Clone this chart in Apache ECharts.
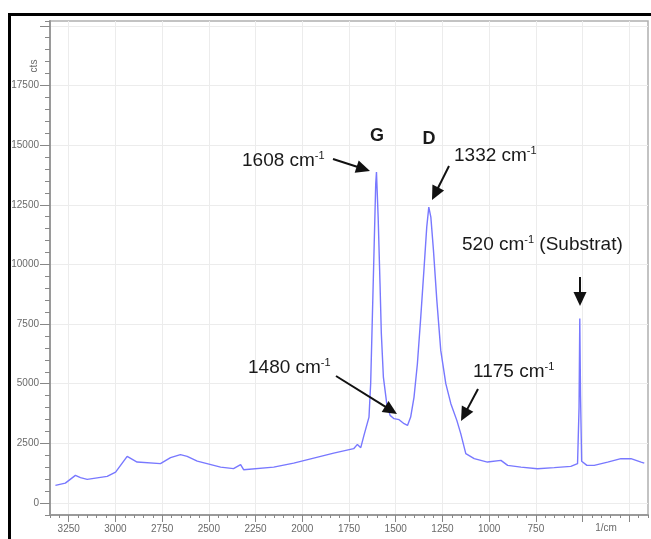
<!DOCTYPE html>
<html>
<head>
<meta charset="utf-8">
<script src="https://cdn.jsdelivr.net/npm/echarts@6/dist/echarts.min.js"></script>
<style>html,body{margin:0;padding:0;background:#fff}#c{width:651px;height:539px}</style>
</head>
<body>
<div id="c"></div>
<script>
// Raman spectrum (wavenumber in 1/cm, intensity in cts)
const wavenumbers = [3321, 3268, 3214, 3187, 3151, 3044, 2999, 2937, 2884, 2759, 2705, 2652, 2616, 2562, 2437, 2368, 2330, 2314, 2153, 2046, 1832, 1725, 1705, 1687, 1670, 1643, 1634, 1625, 1616, 1607, 1603, 1594, 1584, 1577, 1566, 1548, 1530, 1509, 1482, 1455, 1437, 1420, 1402, 1384, 1366, 1348, 1334, 1323, 1312, 1298, 1280, 1259, 1232, 1205, 1173, 1152, 1125, 1080, 1009, 937, 901, 830, 741, 652, 563, 527, 519, 515, 511, 505, 498, 477, 438, 366, 295, 241, 187, 170];
const counts = [742, 838, 1160, 1064, 993, 1119, 1299, 1957, 1718, 1651, 1902, 2028, 1957, 1760, 1508, 1441, 1609, 1399, 1508, 1676, 2095, 2279, 2459, 2321, 2836, 3603, 5015, 7792, 10587, 13381, 13867, 11982, 9192, 7110, 5279, 4164, 3674, 3536, 3494, 3326, 3255, 3603, 4441, 5840, 7792, 9887, 11563, 12401, 11982, 10587, 8492, 6397, 5002, 4164, 3465, 2908, 2070, 1860, 1718, 1789, 1580, 1508, 1441, 1483, 1538, 1651, 4000, 7738, 4500, 1750, 1705, 1580, 1580, 1718, 1860, 1860, 1718, 1676];

// axis ranges and tick labels
const xRange = [150, 3350];
const yRange = [-500, 20200];
const xTickLabels = [3250, 3000, 2750, 2500, 2250, 2000, 1750, 1500, 1250, 1000, 750];
const yTickLabels = [0, 2500, 5000, 7500, 10000, 12500, 15000, 17500];
const xUnit = '1/cm';
const yUnit = 'cts';

// annotations
const annotations = [
  { label: '1608', tail: [333, 159], tip: [370, 171], text: [242, 161] },
  { label: '1332', tail: [449, 166], tip: [432, 200], text: [454, 156] },
  { label: '1480', tail: [336, 376], tip: [397, 414], text: [248, 368] },
  { label: '1175', tail: [478, 389], tip: [461, 421], text: [473, 372] },
  { label: '520',  tail: [580, 277], tip: [580, 306], text: [462, 245], extra: ' (Substrat)' }
];
const bandLabels = [{ t: 'G', p: [377, 136] }, { t: 'D', p: [429, 139] }];

const xCats = [];
for (let v = xRange[0]; v <= xRange[1]; v += 50) xCats.push(String(v));
const yCats = [];
for (let v = yRange[0]; v <= yRange[1]; v += 100) yCats.push(String(v));

const chart = echarts.init(document.getElementById('c'), null, { renderer: 'canvas' });
const FONT = '"Liberation Sans", Arial, sans-serif';
const axisGrey = '#9a9a9a';
const labelGrey = '#6a6a6a';

function arrow(tail, tip) {
  const dx = tip[0] - tail[0], dy = tip[1] - tail[1];
  const L = Math.hypot(dx, dy), ux = dx / L, uy = dy / L;
  const hl = 14, hw = 6.5;
  const bx = tip[0] - ux * hl, by = tip[1] - uy * hl;
  return [
    { type: 'line', shape: { x1: tail[0], y1: tail[1], x2: bx + ux * 2, y2: by + uy * 2 }, style: { stroke: '#111', lineWidth: 2 }, z: 100 },
    { type: 'polygon', shape: { points: [[tip[0], tip[1]], [bx - uy * hw, by + ux * hw], [bx + uy * hw, by - ux * hw]] }, style: { fill: '#111' }, z: 100 }
  ];
}

const graphics = [
  { type: 'rect', shape: { x: 8, y: 13, width: 643, height: 3 }, style: { fill: '#000' }, z: 100 },
  { type: 'rect', shape: { x: 8, y: 13, width: 3, height: 526 }, style: { fill: '#000' }, z: 100 },
  { type: 'text', x: 34, y: 66, rotation: Math.PI / 2, style: { text: yUnit, fill: labelGrey, font: '10px ' + FONT, align: 'center', verticalAlign: 'middle' }, z: 100 },
  { type: 'text', x: 606, y: 528, style: { text: xUnit, fill: labelGrey, font: '10px ' + FONT, align: 'center', verticalAlign: 'middle' }, z: 100 }
];
bandLabels.forEach(b => graphics.push({ type: 'text', x: b.p[0], y: b.p[1], style: { text: b.t, fill: '#1a1a1a', font: 'bold 18px ' + FONT, align: 'center', verticalAlign: 'middle' }, z: 100 }));
annotations.forEach(a => {
  graphics.push({
    type: 'text', x: a.text[0], y: a.text[1],
    style: {
      text: '{a|' + a.label + ' cm}{s|-1}' + (a.extra ? '{a|' + a.extra + '}' : ''),
      rich: { a: { fontSize: 19, fontFamily: FONT, fill: '#1a1a1a', lineHeight: 21 }, s: { fontSize: 11, fontFamily: FONT, fill: '#1a1a1a', verticalAlign: 'top', lineHeight: 21 } },
      verticalAlign: 'middle', align: 'left'
    }, z: 100
  });
  arrow(a.tail, a.tip).forEach(g => graphics.push(g));
});

const option = {
  animation: false,
  backgroundColor: '#fff',
  grid: { left: 50, right: 3, top: 21, bottom: 24, show: true, borderColor: '#b0b0b0', borderWidth: 1.5, containLabel: false },
  xAxis: [
    {
      type: 'value', min: xRange[0], max: xRange[1], interval: 50, inverse: true, position: 'bottom',
      axisLine: { show: true, onZero: false, lineStyle: { color: axisGrey, width: 2 } },
      axisTick: { show: true, length: 3, lineStyle: { color: '#888' } },
      axisLabel: { show: false }, splitLine: { show: false }
    },
    {
      type: 'category', data: xCats, boundaryGap: false, inverse: true, position: 'bottom',
      axisLine: { show: false, onZero: false },
      axisTick: { show: true, length: 7, interval: (i, v) => (+v) % 250 === 0, lineStyle: { color: '#888' } },
      axisLabel: { interval: (i, v) => xTickLabels.includes(+v), color: labelGrey, fontSize: 10, fontFamily: FONT, margin: 9 },
      splitLine: { show: true, interval: (i, v) => (+v) % 250 === 0, lineStyle: { color: '#ececec', width: 1 } }
    }
  ],
  yAxis: [
    {
      type: 'value', min: yRange[0], max: yRange[1], interval: 500, position: 'left',
      axisLine: { show: true, onZero: false, lineStyle: { color: axisGrey, width: 2 } },
      axisTick: { show: true, length: 5, lineStyle: { color: '#888' } },
      axisLabel: { show: false }, splitLine: { show: false }
    },
    {
      type: 'category', data: yCats, boundaryGap: false, position: 'left',
      axisLine: { show: false, onZero: false },
      axisTick: { show: true, length: 10, interval: (i, v) => (+v) % 2500 === 0 && +v >= 0, lineStyle: { color: '#888' } },
      axisLabel: { interval: (i, v) => yTickLabels.includes(+v), color: labelGrey, fontSize: 10, fontFamily: FONT, margin: 11 },
      splitLine: { show: true, interval: (i, v) => (+v) % 2500 === 0 && +v >= 0, lineStyle: { color: '#ececec', width: 1 } }
    }
  ],
  series: [{
    type: 'line', xAxisIndex: 0, yAxisIndex: 0, showSymbol: false, symbol: 'none',
    data: wavenumbers.map((w, i) => [w, counts[i]]),
    lineStyle: { color: '#7878ff', width: 1.4 }, z: 5
  }],
  graphic: graphics
};
chart.setOption(option);
</script>
</body>
</html>
